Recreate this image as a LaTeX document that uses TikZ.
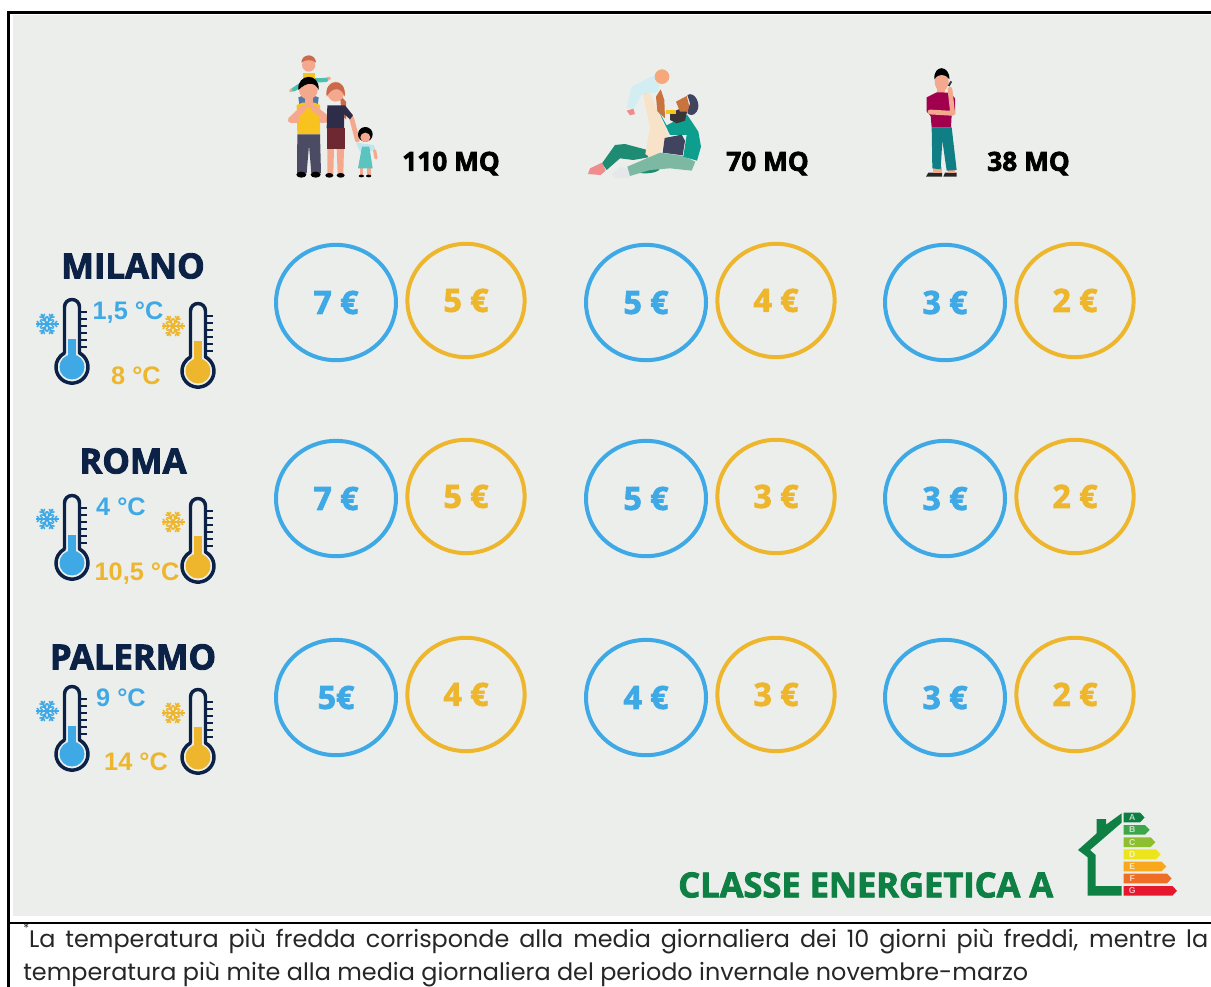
\documentclass[tikz,border=0pt]{standalone}
\usepackage{fontspec}
\usetikzlibrary{shapes.geometric}
\setmainfont{Open Sans}
\newfontfamily\heavy[FakeBold=2.5]{Open Sans Bold}
\newfontfamily\tempf{Liberation Sans Bold}
\newfontfamily\footf{Poppins}
\definecolor{panel}{HTML}{ECEEEC}
\definecolor{cold}{HTML}{3FA9E6}
\definecolor{warm}{HTML}{EDB62D}
\definecolor{navy}{HTML}{0B2145}
\definecolor{cgreen}{HTML}{0E8043}
\definecolor{skin}{HTML}{F4A98F}
\definecolor{hairred}{HTML}{C96A4A}
\definecolor{shirty}{HTML}{F9C31F}
\definecolor{pants}{HTML}{4B4C63}
\definecolor{childblue}{HTML}{4F78A8}
\definecolor{childteal}{HTML}{4DBFAE}
\definecolor{topdark}{HTML}{2E2D49}
\definecolor{skirt}{HTML}{6E2832}
\definecolor{dress}{HTML}{5BC4BE}
\definecolor{sleeve}{HTML}{BFE6EE}
\definecolor{dpants}{HTML}{1E8C73}
\definecolor{lpants}{HTML}{7DB9A2}
\definecolor{sweater}{HTML}{0E9E8E}
\definecolor{under}{HTML}{40445E}
\definecolor{cream}{HTML}{F8E3C8}
\definecolor{babyb}{HTML}{D3EEF2}
\definecolor{babyh}{HTML}{F6A77B}
\definecolor{footp}{HTML}{F08C8C}
\definecolor{tan}{HTML}{C9733F}
\definecolor{beard}{HTML}{3A3338}
\definecolor{sock}{HTML}{E6E7EA}
\definecolor{mshirt}{HTML}{A0004D}
\definecolor{mpants}{HTML}{0F7F85}
\tikzset{
 blueloop/.style={draw=cold,line width=3pt,ellipse,minimum width=90pt,minimum height=86.5pt,inner sep=0pt,yshift=-0.4pt,text=cold,font=\heavy\fontsize{24}{24}\selectfont},
 yelloop/.style={draw=warm,line width=3pt,ellipse,minimum width=88pt,minimum height=85pt,inner sep=0pt,yshift=0.4pt,text=warm,font=\heavy\fontsize{24}{24}\selectfont},
 city/.style={text=navy,font=\heavy\fontsize{26}{26}\selectfont,inner sep=0pt},
 mq/.style={text=black,font=\heavy\fontsize{19.7}{19.7}\selectfont,inner sep=0pt},
 tempc/.style={text=cold,font=\tempf\fontsize{19}{19}\selectfont,inner sep=0pt},
 tempw/.style={text=warm,font=\tempf\fontsize{19}{19}\selectfont,inner sep=0pt},
 foot/.style={inner sep=0pt,anchor=base west,font=\footf\fontsize{17.92}{17.92}\selectfont,text=black!85},
 bar/.style={font=\tempf\fontsize{6.5}{6.5}\selectfont,inner sep=0pt},
 limb/.style={line cap=round,line join=round},
}
\newcommand{\thermometer}[4]{% x(center) ytop colour column-top offset
 \begin{scope}[shift={(#1,#2)}]
  \foreach \yy in {13,20,27,34,41,48}{\draw[navy,line width=1.6pt] (9,\yy)--(15,\yy);}
  \draw[navy,line width=2.6pt,fill=panel,line join=round] (-7.5,54) -- (-7.5,8) arc (180:360:7.5) -- (7.5,54) arc (-62:242:16) -- cycle;
  \fill[#3] (-4,#4) rectangle (4,60);
  \fill[#3] (0,68) circle (12.5);
 \end{scope}}
\newcommand{\flake}[3]{% x y colour
 \begin{scope}[shift={(#1,#2)}]
  \foreach \a in {0,60,...,300}{
   \begin{scope}[rotate=\a]
    \draw[#3,line width=1.5pt] (0,0)--(11.5,0);
    \draw[#3,line width=1.1pt] (7,-3.5)--(4,0)--(7,3.5);
    \draw[#3,line width=1.1pt] (10,-3)--(7.5,0)--(10,3);
   \end{scope}}
 \end{scope}}
\begin{document}
\begin{tikzpicture}[x=0.75pt,y=-0.75pt]
\useasboundingbox (0,0) rectangle (1211,987);
\fill[white] (0,0) rectangle (1211,987);
\fill[panel] (13,15) rectangle (1211,916);
\draw[black,line width=1.6pt] (8.5,987) -- (8.5,12.5) -- (1211,12.5);
\draw[black,line width=1.6pt] (8.5,923) -- (1211,923);

% ---------- family ----------
\begin{scope}[shift={(270,40)},x=0.25pt,y=-0.25pt]
 \draw[limb,line width=2.6pt,draw=skin] (62,152)--(70,148);\draw[limb,line width=2.6pt,draw=skin] (170,117)--(178,115);
 \draw[limb,line width=3.2pt,draw=childteal] (72,148)--(112,122)--(168,120);
 \fill[shirty] (98,100) rectangle (135,125);
 \fill[skin] (116,75) circle (20);
 \fill[hairred] (94,68) arc (180:360:22) .. controls (128,58) and (105,58) .. (94,68) -- cycle;
 \fill[childblue] (85,172)--(105,165)--(108,225)--(92,228)--cycle;
 \fill[childblue] (125,165)--(146,172)--(140,225)--(123,222)--cycle;
 \fill[shirty] (80,195)--(98,188)--(134,188)--(150,195)--(150,283)--(82,283)--cycle;
 \draw[limb,line width=4.5pt,draw=skin] (100,205)--(62,240)--(80,240);
 \draw[limb,line width=4.5pt,draw=skin] (132,205)--(174,238)--(155,240);
 \fill[skin] (104,170) rectangle (128,205);
 \fill[skin] (115,150) ellipse (28 and 28);
 \fill[black] (85,150) .. controls (80,100) and (150,95) .. (146,150) .. controls (135,125) and (110,125) .. (85,150) -- cycle;
 \fill[pants] (82,283)--(150,283)--(153,400)--(124,400)--(117,315)--(110,400)--(81,400)--cycle;
 \fill[black] (94,404) ellipse (15 and 9);\fill[black] (137,404) ellipse (15 and 9);
 % woman
 \fill[skin] (172,325)--(192,325)--(190,402)--(172,402)--cycle;
 \fill[skin] (200,325)--(222,325)--(220,402)--(203,402)--cycle;
 \draw[limb,line width=3.6pt,draw=skin] (245,235)--(262,300);
 \fill[hairred] (210,165)--(228,185)--(228,238)--(215,225)--cycle;
 \fill[topdark] (172,196)--(225,196)--(249,226)--(240,238)--(222,222)--(222,265)--(170,265)--cycle;
 \fill[skirt] (170,265) rectangle (224,326);
 \fill[skin] (197,155) ellipse (26 and 30);
 \fill[hairred] (170,170) .. controls (160,115) and (232,110) .. (224,170) .. controls (215,140) and (185,140) .. (170,170) -- cycle;
 \fill[black] (178,406) ellipse (12 and 7);\fill[black] (212,406) ellipse (12 and 7);
 % girl
 \fill[skin] (270,385) rectangle (280,405);\fill[skin] (292,385) rectangle (302,405);
 \fill[black] (286,283) circle (22);
 \fill[skin] (286,292) ellipse (15 and 14);
 \fill[sleeve] (258,308)--(312,315)--(316,330)--(295,335)--(270,335)--cycle;
 \draw[limb,line width=2.4pt,draw=skin] (314,332)--(318,354);
 \fill[dress] (276,320)--(298,320)--(308,385)--(264,385)--cycle;
 \fill[black] (274,408) ellipse (8 and 4);\fill[black] (296,408) ellipse (8 and 4);
\end{scope}
% ---------- father and baby ----------
\begin{scope}[shift={(570,50)},x=0.25pt,y=-0.25pt]
 \fill[sock] (125,372)--(150,350)--(182,358)--(178,384)--(135,384)--cycle;
 \fill[dpants] (96,340)--(135,285)--(165,282)--(232,300)--(235,322)--(190,330)--(150,325)--(110,360)--cycle;
 \fill[footp] (54,372)--(60,355)--(96,338)--(107,362)--(92,375)--cycle;
 \fill[dpants] (225,355) ellipse (45 and 15);
 \fill[cream] (218,130)--(240,130)--(295,255)--(275,295)--(270,305)--(240,322)--(226,312)--(240,232)--cycle;
 \fill[lpants] (180,378)--(172,350)--(270,308)--(340,318)--(376,335)--(365,362)--(300,355)--(240,360)--cycle;
 \fill[sweater] (265,182)--(290,226)--(330,205)--(352,195)--(385,245)--(393,290)--(381,332)--(340,320)--(350,255)--(300,255)--cycle;
 \fill[under] (278,308)--(284,264)--(335,254)--(345,272)--(338,316)--cycle;
 \fill[babyh] (228,130)--(217,128)--(218,98)--(232,92)--(237,128)--cycle;
 \fill[babyb] (185,110)--(255,75)--(272,100)--(262,127)--(218,130)--(192,176)--(170,174)--cycle;
 \fill[tan] (262,184)--(258,140)--(272,118)--(283,150)--(285,205)--cycle;
 \fill[babyh] (276,80) circle (22);
 \fill[footp] (170,182)--(190,176)--(195,192)--(180,196)--cycle;
 \fill[beard] (300,192)--(325,178)--(352,182)--(345,212)--(320,220)--(300,210)--cycle;
 \fill[shirty] (288,180) rectangle (318,192);
 \fill[tan] (318,155)--(350,138)--(362,185)--(330,185)--cycle;
 \fill[under] (352,135) .. controls (375,122) and (395,165) .. (380,185) .. controls (370,200) and (358,195) .. (352,190) -- (360,160) -- cycle;
\end{scope}
% ---------- man on phone ----------
\begin{scope}[shift={(900,50)},x=0.25pt,y=-0.25pt]
 \fill[black!85] (78,380)--(85,368)--(126,368)--(126,380)--cycle;
 \fill[black!85] (130,380)--(135,368)--(170,368)--(170,380)--cycle;
 \fill[skin] (100,350) rectangle (125,370);\fill[skin] (143,350) rectangle (165,370);
 \fill[mpants] (95,232)--(155,232)--(170,360)--(140,362)--(127,272)--(122,358)--(97,355)--cycle;
 \fill[skin] (110,105) rectangle (136,135);
 \fill[mshirt] (80,142)--(110,127)--(150,128)--(165,145)--(165,192)--(155,195)--(153,232)--(95,232)--(92,198)--(80,185)--cycle;
 \fill[skin] (125,95) ellipse (21 and 29);
 \fill[black] (103,88) .. controls (100,42) and (150,45) .. (148,88) .. controls (135,70) and (115,70) .. (103,88) -- cycle;
 \draw[limb,line width=3.6pt,draw=skin] (150,118)--(158,190)--(90,186);
 \draw[black!80,line width=1.4pt] (146,108)--(154,94);
\end{scope}

% ---------- column labels ----------
\node[mq,anchor=west] (m1) at (402,163.5) {110 MQ};
\node[mq,anchor=west] (m2) at (726,163.5) {70 MQ};
\node[mq,anchor=west] (m3) at (987,163.5) {38 MQ};

% ---------- rows ----------
\node[city] (c1) at (133,266) {MILANO};
\node[city] (c2) at (133,461) {ROMA};
\node[city] (c3) at (133,657) {PALERMO};

\thermometer{72}{299}{cold}{40}
\thermometer{198}{303}{warm}{38}
\flake{47}{324}{cold}\flake{173}{326}{warm}
\node[tempc] (t1a) at (128,313) {1,5 °C};
\node[tempw] (t1b) at (136,376) {8 °C};

\thermometer{72}{495}{cold}{40}
\thermometer{198}{498}{warm}{38}
\flake{47}{519}{cold}\flake{173}{522}{warm}
\node[tempc] (t2a) at (121,507) {4 °C};
\node[tempw] (t2b) at (137,574) {10,5 °C};

\thermometer{72}{686}{cold}{40}
\thermometer{198}{689}{warm}{38}
\flake{47}{711}{cold}\flake{173}{713}{warm}
\node[tempc] (t3a) at (121,698) {9 °C};
\node[tempw] (t3b) at (136,762) {14 °C};

\node[blueloop] (a11) at (336,302) {7 €};
\node[yelloop] (b11) at (466,301) {5 €};
\node[blueloop] (a12) at (646,302) {5 €};
\node[yelloop] (b12) at (776,301) {4 €};
\node[blueloop] (a13) at (945,302) {3 €};
\node[yelloop] (b13) at (1075,301) {2 €};

\node[blueloop] (a21) at (336,498) {7 €};
\node[yelloop] (b21) at (466,497) {5 €};
\node[blueloop] (a22) at (646,498) {5 €};
\node[yelloop] (b22) at (776,497) {3 €};
\node[blueloop] (a23) at (945,498) {3 €};
\node[yelloop] (b23) at (1075,497) {2 €};

\node[blueloop] (a31) at (336,697) {5€};
\node[yelloop] (b31) at (466,695) {4 €};
\node[blueloop] (a32) at (646,697) {4 €};
\node[yelloop] (b32) at (776,695) {3 €};
\node[blueloop] (a33) at (945,697) {3 €};
\node[yelloop] (b33) at (1075,695) {2 €};

% ---------- energy class ----------
\node[text=cgreen,font=\heavy\fontsize{25.85}{25.85}\selectfont,inner sep=0pt,anchor=west] (cls) at (678,885) {CLASSE ENERGETICA A};
\begin{scope}[shift={(1050,800)},x=0.25pt,y=-0.25pt]
 \fill[cgreen] (215,287)--(113,287)--(113,172)--(84,150)--(140,100)--(140,57)--(168,57)--(168,74)--(215,40)--(215,68)--(120,150)--(137,165)--(137,258)--(215,258)--cycle;
 \foreach \yt/\yb/\xr/\cc/\lt in {
   38/67/270/0D7F43/A,75/104/285/3EA64A/B,112/141/302/8DBF2F/C,148/178/318/EDE51B/D,185/214/335/F9A81C/E,221/250/351/EE6E25/F,258/287/367/E4172C/G}{
  \definecolor{bb}{HTML}{\cc}
  \fill[bb] (221,\yt)--(\xr,\yt)--({\xr+14},{(\yt+\yb)/2})--(\xr,\yb)--(221,\yb)--cycle;
  \node[bar,text=white!70!bb] at (247,{(\yt+\yb)/2}) {\lt};
 }
\end{scope}

% ---------- footnote ----------
\node[foot] (f1) at (23,947) {\makebox[888.75pt][s]{\raisebox{1.1ex}{\fontsize{9}{9}\selectfont *}La temperatura più fredda corrisponde alla media giornaliera dei 10 giorni più freddi, mentre la}};
\node[foot] (f2) at (23,980.5) {temperatura più mite alla media giornaliera del periodo invernale novembre-marzo};
\end{tikzpicture}
\end{document}
